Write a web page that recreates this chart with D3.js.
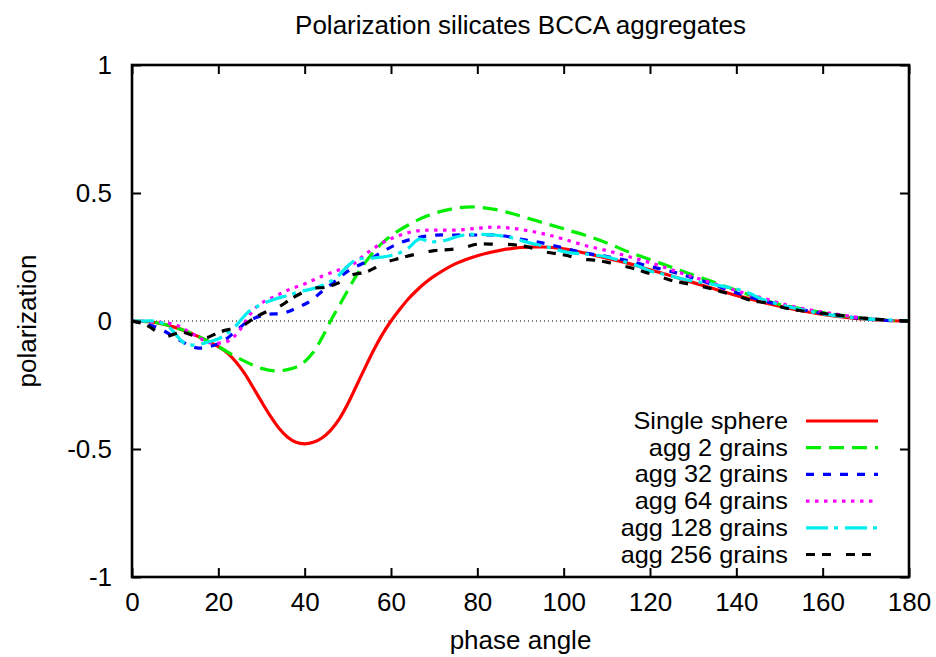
<!DOCTYPE html>
<html>
<head>
<meta charset="utf-8">
<script src="https://cdn.jsdelivr.net/npm/d3@7"></script>
<style>
  html, body { margin: 0; padding: 0; background: #fff; }
  text { font-family: "Liberation Sans", Arial, Helvetica, sans-serif; fill: #000; }
</style>
</head>
<body>
<svg id="chart" width="936" height="657"></svg>
<script>
// Polarization vs phase angle for silicate BCCA aggregates of increasing size
const titleText = "Polarization silicates BCCA aggregates";
const xLabel = "phase angle";
const yLabel = "polarization";
const xTicks = [0, 20, 40, 60, 80, 100, 120, 140, 160, 180];
const yTicks = [-1, -0.5, 0, 0.5, 1];
const yTickLabels = ["-1", "-0.5", "0", "0.5", "1"];

const seriesNames = ["Single sphere", "agg 2 grains", "agg 32 grains", "agg 64 grains", "agg 128 grains", "agg 256 grains"];
const seriesColors = ["#ff0000", "#00ee00", "#0000ff", "#ff00ff", "#00eeee", "#000000"];
const seriesDashes = [null, "15,8", "8,9", "3.5,5.5", "22,6,4,7", "9,7,9,15"];

// [phase angle, polarization]
const singleSphere = [[0,0],[5,-0.005],[10,-0.025],[15,-0.058],[20,-0.1],[22,-0.123],[24,-0.158],[26,-0.203],[28,-0.258],[30,-0.315],[32,-0.37],[34,-0.418],[36,-0.453],[38,-0.474],[40,-0.48],[42,-0.474],[44,-0.457],[46,-0.427],[48,-0.383],[50,-0.323],[52,-0.253],[54,-0.182],[56,-0.113],[58,-0.052],[60,0.0],[62,0.045],[64,0.086],[66,0.12],[68,0.15],[70,0.175],[75,0.224],[80,0.255],[85,0.275],[90,0.287],[95,0.289],[100,0.282],[105,0.265],[110,0.245],[115,0.225],[120,0.2],[125,0.176],[130,0.15],[135,0.125],[140,0.1],[145,0.078],[150,0.058],[155,0.04],[160,0.026],[165,0.015],[170,0.007],[175,0.002],[180,0]];
const agg2 = [[0,0],[5,-0.005],[10,-0.025],[15,-0.057],[20,-0.1],[25,-0.148],[30,-0.185],[33,-0.195],[36,-0.19],[39,-0.172],[42,-0.122],[44,-0.066],[46,0.0],[48,0.06],[50,0.12],[52,0.178],[54,0.228],[56,0.27],[58,0.305],[60,0.333],[64,0.375],[68,0.408],[72,0.43],[76,0.443],[80,0.445],[84,0.436],[88,0.42],[92,0.4],[96,0.38],[100,0.36],[105,0.335],[110,0.305],[115,0.27],[120,0.24],[125,0.21],[130,0.18],[135,0.15],[140,0.12],[145,0.09],[150,0.065],[155,0.048],[160,0.033],[165,0.02],[170,0.01],[175,0.003],[180,0]];
const agg32 = [[0,0],[3,-0.01],[7,-0.035],[11,-0.075],[15,-0.105],[18,-0.1],[21,-0.08],[24,-0.04],[27,0.0],[31,0.025],[35,0.03],[38,0.05],[41,0.075],[44,0.115],[47,0.155],[50,0.195],[54,0.23],[58,0.27],[62,0.305],[66,0.325],[70,0.335],[75,0.336],[80,0.336],[85,0.335],[90,0.32],[95,0.305],[100,0.285],[105,0.265],[110,0.252],[115,0.235],[120,0.213],[125,0.193],[130,0.168],[135,0.14],[140,0.11],[145,0.085],[150,0.063],[155,0.045],[160,0.03],[165,0.018],[170,0.008],[175,0.002],[180,0]];
const agg64 = [[0,0],[5,-0.003],[10,-0.015],[14,-0.05],[18,-0.085],[22,-0.08],[24,-0.055],[26,-0.01],[28,0.04],[30,0.07],[33,0.095],[36,0.12],[40,0.145],[44,0.175],[48,0.2],[51,0.22],[54,0.26],[58,0.305],[62,0.335],[66,0.352],[70,0.355],[75,0.355],[80,0.362],[84,0.367],[88,0.362],[92,0.352],[96,0.338],[100,0.32],[105,0.295],[110,0.275],[115,0.252],[120,0.228],[125,0.2],[130,0.172],[135,0.145],[140,0.118],[145,0.095],[150,0.07],[155,0.05],[160,0.035],[165,0.022],[170,0.01],[175,0.003],[180,0]];
const agg128 = [[0,0],[3,0.0],[5,0.0],[8,-0.015],[10,-0.05],[12,-0.085],[14,-0.094],[16,-0.09],[18,-0.08],[20,-0.07],[22,-0.048],[24,-0.02],[27,0.036],[30,0.065],[33,0.085],[36,0.1],[39,0.115],[43,0.132],[47,0.165],[50,0.215],[52,0.24],[55,0.245],[58,0.25],[61,0.26],[64,0.285],[66.5,0.32],[69,0.31],[72,0.313],[77,0.336],[84,0.336],[88,0.325],[91,0.31],[96,0.29],[101,0.268],[106,0.26],[110,0.25],[114,0.232],[118,0.21],[120,0.195],[124,0.18],[128,0.162],[133,0.148],[137,0.135],[140,0.125],[143,0.108],[146,0.085],[150,0.065],[155,0.045],[160,0.028],[165,0.017],[170,0.008],[175,0.004],[180,0]];
const agg256 = [[0,0],[2,-0.008],[4,-0.022],[6,-0.045],[8,-0.06],[10,-0.05],[12,-0.045],[14,-0.055],[17,-0.066],[20,-0.045],[23,-0.03],[26,-0.015],[28,0.008],[31,0.035],[34,0.055],[37,0.088],[40,0.115],[42,0.128],[45,0.132],[48,0.15],[51,0.18],[54,0.19],[56,0.205],[58,0.225],[62,0.245],[66,0.262],[70,0.275],[74,0.28],[77,0.288],[80,0.3],[84,0.3],[89,0.297],[92,0.288],[95,0.272],[98,0.264],[101,0.255],[104,0.242],[107,0.238],[110,0.23],[113,0.218],[116,0.206],[119,0.19],[122,0.175],[125,0.158],[128,0.148],[131,0.138],[134,0.127],[137,0.112],[140,0.1],[143,0.082],[147,0.07],[151,0.052],[155,0.04],[160,0.03],[165,0.02],[170,0.01],[175,0.004],[180,0]];

const allSeries = [singleSphere, agg2, agg32, agg64, agg128, agg256];

const svg = d3.select("#chart");
const margin = { left: 132, right: 27, top: 65, bottom: 80 };
const W = 936, H = 657;
const x = d3.scaleLinear().domain([0, 180]).range([margin.left, W - margin.right]);
const y = d3.scaleLinear().domain([-1, 1]).range([H - margin.bottom, margin.top]);

const fontSize = 26;
const legendFontSize = 23;

// zero reference line (dotted)
svg.append("line")
  .attr("x1", x(0)).attr("x2", x(180))
  .attr("y1", y(0)).attr("y2", y(0))
  .attr("stroke", "#000").attr("stroke-width", 1)
  .attr("stroke-dasharray", "1,3");

// curves, clipped to the plot frame
svg.append("clipPath").attr("id", "plotclip")
  .append("rect").attr("x", x(0)).attr("y", y(1)).attr("width", x(180) - x(0)).attr("height", y(-1) - y(1));

const line = d3.line().x(d => x(d[0])).y(d => y(d[1])).curve(d3.curveCatmullRom.alpha(0.5));
const curves = svg.append("g").attr("clip-path", "url(#plotclip)");
allSeries.forEach((data, i) => {
  curves.append("path")
    .datum(data)
    .attr("d", line)
    .attr("fill", "none")
    .attr("stroke", seriesColors[i])
    .attr("stroke-width", 3.2)
    .attr("stroke-dasharray", seriesDashes[i]);
});

// axes with inward ticks on all four sides
const tickLen = 9;
const bottomAxis = d3.axisBottom(x).tickValues(xTicks).tickSizeInner(-tickLen).tickSizeOuter(0).tickPadding(16);
const topAxis = d3.axisTop(x).tickValues(xTicks).tickSizeInner(-tickLen).tickSizeOuter(0).tickFormat("");
const leftAxis = d3.axisLeft(y).tickValues(yTicks).tickSizeInner(-tickLen).tickSizeOuter(0).tickPadding(20)
  .tickFormat((d, i) => yTickLabels[i]);
const rightAxis = d3.axisRight(y).tickValues(yTicks).tickSizeInner(-tickLen).tickSizeOuter(0).tickFormat("");

function styleAxis(g) {
  g.select(".domain").remove();
  g.selectAll(".tick line").attr("stroke", "#000").attr("stroke-width", 2);
  g.selectAll(".tick text").attr("font-size", fontSize).attr("font-family", "Liberation Sans, Arial, sans-serif").attr("fill", "#000");
}
svg.append("g").attr("transform", `translate(0,${y(-1)})`).call(bottomAxis).call(styleAxis);
svg.append("g").attr("transform", `translate(0,${y(1)})`).call(topAxis).call(styleAxis);
svg.append("g").attr("transform", `translate(${x(0)},0)`).call(leftAxis).call(styleAxis);
svg.append("g").attr("transform", `translate(${x(180)},0)`).call(rightAxis).call(styleAxis);

// border
svg.append("rect")
  .attr("x", x(0)).attr("y", y(1))
  .attr("width", x(180) - x(0)).attr("height", y(-1) - y(1))
  .attr("fill", "none").attr("stroke", "#000").attr("stroke-width", 2.6);

// title and axis labels
svg.append("text").attr("x", (x(0) + x(180)) / 2).attr("y", 34)
  .attr("text-anchor", "middle").attr("font-size", fontSize).text(titleText);
svg.append("text").attr("x", (x(0) + x(180)) / 2).attr("y", 649)
  .attr("text-anchor", "middle").attr("font-size", fontSize).text(xLabel);
svg.append("text")
  .attr("transform", `translate(36,${y(0)}) rotate(-90)`)
  .attr("text-anchor", "middle").attr("font-size", fontSize).text(yLabel);

// legend: right-aligned labels with a line sample for each series
const legend = svg.append("g");
const legendTop = 421, legendStep = 26.7;
seriesNames.forEach((name, i) => {
  const ly = legendTop + i * legendStep;
  legend.append("text")
    .attr("transform", `translate(788,${ly}) scale(1.1,1)`)
    .attr("dy", "0.35em")
    .attr("text-anchor", "end").attr("font-size", legendFontSize).text(name);
  legend.append("line")
    .attr("x1", 806).attr("x2", 878).attr("y1", ly).attr("y2", ly)
    .attr("stroke", seriesColors[i]).attr("stroke-width", 3.2)
    .attr("stroke-dasharray", seriesDashes[i]);
});
</script>
</body>
</html>
